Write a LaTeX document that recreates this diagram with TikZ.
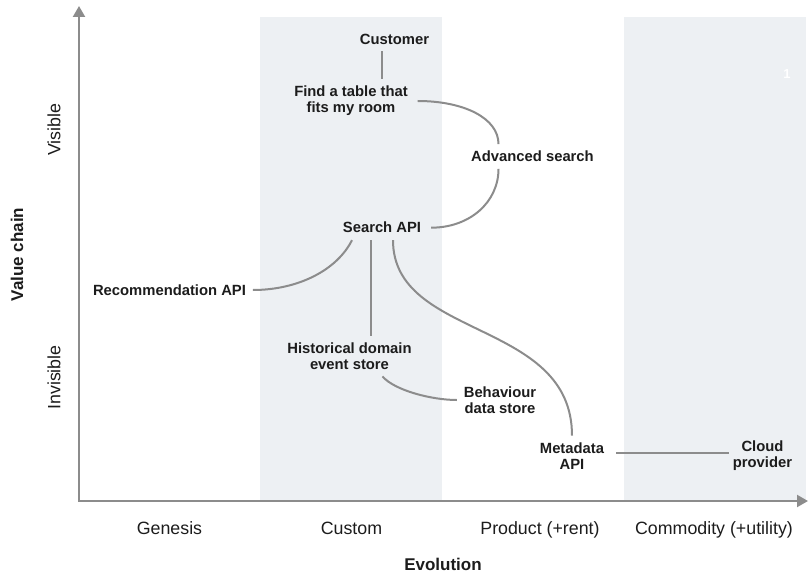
\documentclass[tikz,border=0pt]{standalone}
\usepackage{fontspec}
\setmainfont{Liberation Sans}
\usetikzlibrary{arrows.meta}
\definecolor{ink}{HTML}{1C1C1C}
\definecolor{wire}{HTML}{8C8C8C}
\definecolor{band}{HTML}{EDF0F3}

\begin{document}
\begin{tikzpicture}[x=1pt, y=-1pt,
  comp/.style={font=\bfseries\fontsize{14.8}{16}\selectfont, text=ink, align=center, inner sep=0pt, outer sep=7pt},
  stage/.style={font=\fontsize{17.8}{20}\selectfont, text=ink, anchor=base, inner sep=0pt},
  heading/.style={font=\bfseries\fontsize{17}{20}\selectfont, text=ink, inner sep=0pt},
  link/.style={draw=wire, line width=2pt},
  axis/.style={draw=wire, line width=2.2pt, {Triangle[width=12pt,length=11pt]}-{Triangle[width=12pt,length=11pt]}}]
  \useasboundingbox (0,0) rectangle (809,575);

  \fill[band] (260,17) rectangle (442,501);
  \fill[band] (624,17) rectangle (806,501);
  \node[font=\bfseries\fontsize{13}{13}\selectfont, text=white, inner sep=0pt] (page) at (787,74) {1};

  \coordinate (origin) at (79,501);
  \coordinate (ytip) at (79,6);
  \coordinate (xtip) at (808,501);
  \draw[axis] (ytip) -- (origin) -- (xtip);

  \node[stage] (genesis) at (169.5,534) {Genesis};
  \node[stage] (custom) at (351.5,534) {Custom};
  \node[stage] (product) at (540,534) {Product (+rent)};
  \node[stage] (commodity) at (714,534) {Commodity (+utility)};
  \node[heading, anchor=base] (evolution) at (443,570) {Evolution};
  \node[heading, rotate=90] (valuechain) at (17,254.5) {Value chain};
  \node[stage, anchor=center, rotate=90] (visible) at (54,129.5) {Visible};
  \node[stage, anchor=center, rotate=90] (invisible) at (54,377.5) {Invisible};

  \node[comp] (customer) at (394.5,39) {Customer};
  \node[comp] (find) at (351,101) {Find a table that\\fits my room};
  \node[comp] (adv) at (532.5,156.5) {Advanced search};
  \node[comp] (sapi) at (382,227.7) {Search API};
  \node[comp] (rec) at (169.5,290) {Recommendation API};
  \node[comp] (hist) at (349.5,356) {Historical domain\\event store};
  \node[comp] (beh) at (500,400) {Behaviour\\data store};
  \node[comp] (meta) at (572,456) {Metadata\\API};
  \node[comp] (cloud) at (762.5,456) {Cloud\\provider};

  \draw[link] (customer.south -| sapi) -- (find.north -| sapi);
  \draw[link] ([xshift=3pt]find.east) .. controls +(46,0) and +(0,-26) .. ([xshift=-34pt]adv.north);
  \draw[link] ([xshift=-34pt]adv.south) .. controls +(0,33) and +(39,0) .. ([xshift=3pt]sapi.east);
  \draw[link] ([xshift=-30pt]sapi.south) .. controls +(-15,30) and +(45,0) .. (rec.east);
  \draw[link] ([xshift=-11pt]sapi.south) -- ([xshift=-11pt]sapi.south |- hist.north);
  \draw[link] ([xshift=11pt]sapi.south) .. controls +(0,100) and +(0,-117) .. (meta.north);
  \draw[link] ([xshift=33pt]hist.south) .. controls +(12,14) and +(-25,0) .. (beh.west);
  \draw[link] ([xshift=5pt,yshift=3pt]meta.east) -- ([xshift=3pt,yshift=3pt]meta.east -| cloud.west);
\end{tikzpicture}
\end{document}
